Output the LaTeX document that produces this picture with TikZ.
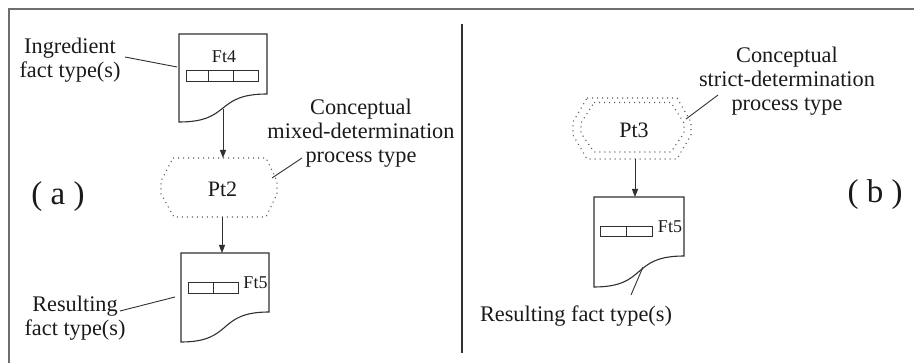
\documentclass[tikz,border=0pt]{standalone}
\usepackage{fontspec}
\setmainfont{Liberation Serif}
\usetikzlibrary{arrows.meta}
\definecolor{ln}{HTML}{303030}
\definecolor{fr}{HTML}{6E6E6E}
\definecolor{tx}{HTML}{1A1A1A}
\definecolor{dt}{HTML}{555555}
\newcommand\mydoc[5]{% L T R Bl Br
  \draw[docline] (#1,#2) -- (#3,#2) -- (#3,#5)
    .. controls ({#1+0.4*(#3-#1)},#5) and ({#1+0.6*(#3-#1)},#4) .. (#1,#4) -- cycle;}
\begin{document}
\begin{tikzpicture}[x=1pt,y=-1pt,
  lbl/.style={font=\fontsize{22.3}{24}\selectfont, inner sep=0pt, text=tx, align=center},
  ftl/.style={font=\fontsize{18}{20}\selectfont, inner sep=0pt, text=tx, anchor=base},
  ptl/.style={font=\fontsize{22}{24}\selectfont, inner sep=0pt, text=tx, anchor=base},
  biglbl/.style={font=\fontsize{33}{36}\selectfont, inner sep=0pt, text=tx, anchor=base},
  docline/.style={draw=ln, line width=1.1pt},
  tbl/.style={draw=ln, line width=1pt},
  dots/.style={draw=dt, line width=1.1pt, dash pattern=on 1pt off 4pt},
  arr/.style={draw=ln, line width=1pt, -{Triangle[length=8pt,width=6pt]}},
  lead/.style={draw=ln, line width=0.9pt}]
\useasboundingbox (0,0) rectangle (914,363);
% frame
\draw[fr, line width=1.5pt] (9,363) -- (9,9) -- (914,9);
% divider
\draw[ln, line width=1.2pt] (462,24) -- (462,353);

% ---------- (a) ----------
\mydoc{179}{34}{267}{122}{94}
\draw[tbl] (186,71) rectangle (258,82) (208,71) -- (208,82) (233,71) -- (233,82);
\node[ftl] (ft4) at (224,63) {Ft4};

\draw[dots] (173,158) -- (266,158) -- (277,181) -- (277,194) -- (266,217)
  -- (174,217) -- (161,194) -- (161,181) -- cycle;
\node[ptl] (pt2) at (222.5,197) {Pt2};

\mydoc{181}{253}{269}{342}{312}
\draw[tbl] (188,283) rectangle (238,294) (213,283) -- (213,294);
\node[ftl] (ft5a) at (255.5,289) {Ft5};

\coordinate (ft4b) at (223,109.5);
\coordinate (pt2t) at (223,158);
\coordinate (pt2b) at (222,217);
\coordinate (ft5at) at (222,253);
\draw[arr] (ft4b) -- (pt2t);
\draw[arr] (pt2b) -- (ft5at);

\node[lbl] (ingr) at (70,60.3) {Ingredient\\fact type(s)};
\coordinate (ingrA) at (125,57);
\coordinate (ingrB) at (177,67);
\draw[lead] (ingrA) -- (ingrB);

\node[lbl] (resa) at (75,318) {Resulting\\fact type(s)};
\coordinate (resaA) at (120,311);
\coordinate (resaB) at (175,297);
\draw[lead] (resaA) -- (resaB);

\node[lbl] (conca) at (361,133.5) {Conceptual\\mixed-determination\\process type};
\coordinate (concaA) at (302,158);
\coordinate (concaB) at (272,178);
\draw[lead] (concaA) -- (concaB);

\node[biglbl] (la) at (58,205) {( a )};

% ---------- (b) ----------
\draw[dots] (587,98) -- (677,98) -- (691,122) -- (691,135) -- (677,159)
  -- (587,159) -- (573,135) -- (573,122) -- cycle;
\draw[dots] (594,102.5) -- (671,102.5) -- (684,123) -- (684,133) -- (671,152)
  -- (594,152) -- (581,133) -- (581,123) -- cycle;
\node[ptl] (pt3) at (634,138) {Pt3};

\mydoc{594}{197}{684}{287}{256}
\draw[tbl] (600,227) rectangle (652,237) (626,227) -- (626,237);
\node[ftl] (ft5b) at (670,233) {Ft5};

\coordinate (pt3b) at (635,159);
\coordinate (ft5bt) at (635,197);
\draw[arr] (pt3b) -- (ft5bt);

\node[lbl] (concb) at (787,81) {Conceptual\\strict-determination\\process type};
\coordinate (concbA) at (718,95);
\coordinate (concbB) at (686,119);
\draw[lead] (concbA) -- (concbB);

\node[lbl, anchor=base] (resb) at (576,322) {Resulting fact type(s)};
\coordinate (resbA) at (631,295);
\coordinate (resbB) at (643,267);
\draw[lead] (resbA) -- (resbB);

\node[biglbl] (lb) at (875,203) {( b )};
\end{tikzpicture}
\end{document}
